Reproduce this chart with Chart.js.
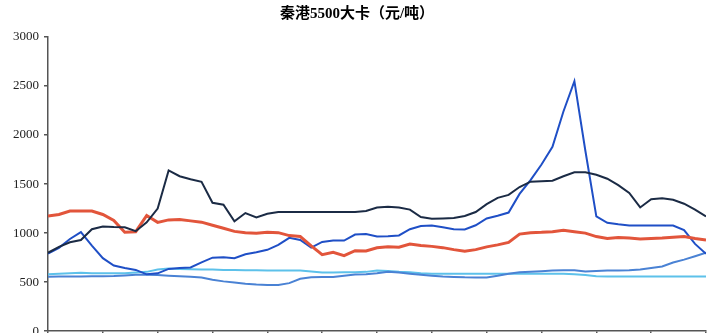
<!DOCTYPE html>
<html>
<head>
<meta charset="utf-8">
<script src="https://cdn.jsdelivr.net/npm/chart.js@4.4.1/dist/chart.umd.min.js"></script>
<style>
  html, body { margin: 0; padding: 0; background: #fff; overflow: hidden; }
  #wrap { width: 719px; height: 333px; overflow: hidden; }
</style>
</head>
<body>
<div id="wrap"><canvas id="c" width="719" height="344"></canvas></div>
<script>
// sampling points along the x axis (no labels visible in the source)
const periods = Array.from({length: 61}, (_, i) => i);
const yTicks = [0, 500, 1000, 1500, 2000, 2500, 3000];

const navy = [800,860,907,930,1040,1068,1062,1060,1020,1110,1250,1640,1580,1550,1523,1310,1290,1120,1205,1160,
  1198,1215,1215,1215,1215,1215,1215,1215,1215,1225,1262,1270,1262,1240,1164,1147,1150,1154,1175,1215,
  1295,1360,1390,1470,1525,1530,1535,1580,1620,1620,1595,1555,1490,1410,1262,1345,1355,1340,1300,1240,1170];
const red = [1175,1190,1225,1225,1225,1190,1130,1010,1015,1180,1110,1135,1140,1125,1112,1080,1050,1018,1005,1000,
  1008,1005,975,965,870,780,804,770,821,818,850,862,856,888,875,865,852,832,815,832,
  860,880,905,990,1005,1008,1015,1030,1015,1000,965,945,955,950,941,945,950,958,965,945,930];
const blue = [790,850,940,1010,873,745,670,645,625,580,590,635,645,650,702,750,753,745,785,805,
  830,880,952,930,852,910,924,924,985,990,965,968,976,1040,1072,1078,1060,1040,1038,1080,
  1150,1178,1210,1400,1540,1700,1880,2240,2550,1840,1170,1105,1090,1078,1078,1078,1078,1078,1030,890,790];
const midBlue = [555,557,558,558,560,560,562,568,575,575,572,566,560,555,548,525,508,496,485,477,
  472,472,490,535,550,552,553,565,578,580,590,607,599,586,575,565,557,553,549,548,
  548,565,585,600,606,612,618,621,622,608,614,618,620,622,630,645,660,700,730,765,800];
const cyan = [580,585,592,595,592,590,590,592,598,605,628,640,635,632,630,628,625,623,622,622,
  620,620,620,618,608,598,598,600,600,605,618,615,605,600,592,587,585,585,585,585,
  585,585,585,585,585,585,585,585,580,572,560,558,558,558,558,558,558,558,558,558,558];

function pts(arr) {
  return arr.map((v, i) => ({x: periods[i], y: v}));
}

function line(data, color, width) {
  return {
    data: pts(data),
    borderColor: color,
    backgroundColor: color,
    borderWidth: width,
    pointRadius: 0,
    tension: 0,
    fill: false
  };
}

new Chart(document.getElementById("c"), {
  type: "line",
  data: {
    datasets: [
      line(navy, "#1b2b45", 2),
      line(red, "#e2553b", 3),
      line(blue, "#1f4fc6", 2),
      line(midBlue, "#4a82d4", 2),
      line(cyan, "#5dc1ea", 2)
    ]
  },
  options: {
    responsive: false,
    animation: false,
    layout: { padding: { left: 8, right: 13, top: 0, bottom: 0 } },
    plugins: {
      legend: { display: false },
      tooltip: { enabled: false },
      title: {
        display: true,
        text: "秦港5500大卡（元/吨）",
        color: "#000",
        font: { family: "'Liberation Serif', 'Noto Sans CJK SC', serif", size: 15, weight: "bold", lineHeight: 1.2 },
        padding: { top: 5, bottom: 14 }
      }
    },
    scales: {
      x: {
        type: "linear",
        min: 0,
        max: 60,
        ticks: { display: false, stepSize: 5 },
        grid: { drawOnChartArea: false, drawTicks: true, tickLength: 5, color: "#555", lineWidth: 1.5 },
        border: { color: "#555", width: 1.5 }
      },
      y: {
        min: 0,
        max: 3000,
        afterBuildTicks: (axis) => { axis.ticks = yTicks.map(v => ({value: v})); },
        ticks: {
          color: "#222",
          padding: 5,
          font: { family: "'Liberation Serif', serif", size: 13 },
          callback: (v) => String(v)
        },
        grid: { drawOnChartArea: false, drawTicks: true, tickLength: 4, color: "#555", lineWidth: 1.5 },
        border: { color: "#555", width: 1.5 }
      }
    }
  }
});
</script>
</body>
</html>
